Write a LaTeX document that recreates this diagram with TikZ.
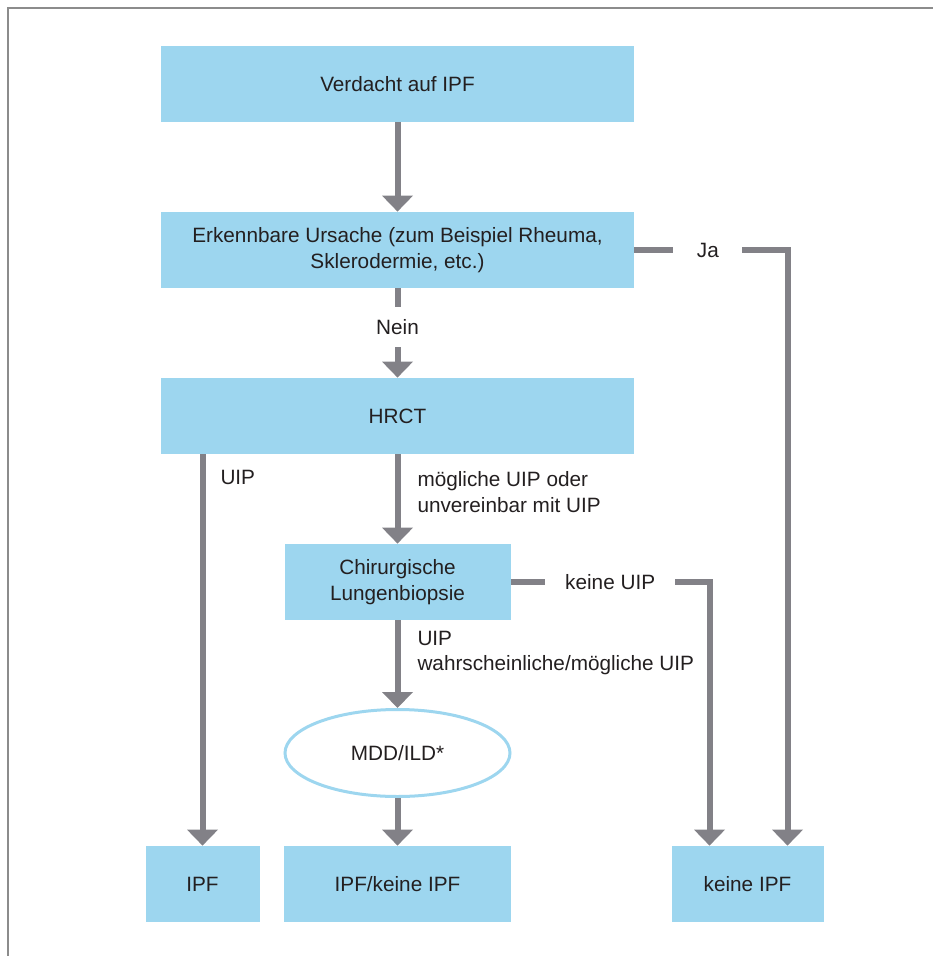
\documentclass[tikz,border=0pt]{standalone}
\usepackage{fontspec}
\setmainfont{Liberation Sans}
\usepackage{tikz}
\usetikzlibrary{arrows,arrows.meta,calc,shapes.geometric}
\definecolor{azzurro}{RGB}{157,214,239}
\definecolor{grigio}{RGB}{130,129,135}
\definecolor{testo}{RGB}{35,31,32}
\definecolor{cornice}{RGB}{140,140,140}
\tikzset{
node distance=3.32cm,
scatola/.style={rectangle,fill=azzurro,minimum height=1.52cm,align=center,text=testo},
ovale/.style={ellipse,draw=azzurro,line width=0.06cm,fill=white,minimum width=4.5cm,minimum height=1.74cm,inner sep=0pt,text=testo},
freccia/.style={-{Triangle[width=0.6cm,length=0.32cm]},grigio,line width=0.12cm},
buco/.style={fill=white,text=testo},
etichetta/.style={anchor=west,align=left,inner sep=0pt,text=testo}}

\begin{document}
\begin{tikzpicture}[font=\fontsize{11.8}{14.5}\selectfont]

\clip (0,0) rectangle (18.66,-19.12);
\draw[cornice,line width=0.04cm] (0.16,-20) -- (0.16,-0.16) -- (20,-0.16);

\node[scatola,minimum width=9.46cm] (sospetto) at (7.95,-1.68) {Verdacht auf IPF};
\node (causa) [scatola,minimum width=9.46cm,below of=sospetto] {Erkennbare Ursache (zum Beispiel Rheuma,\\Sklerodermie, etc.)};
\node (hrct) [scatola,minimum width=9.46cm,below of=causa] {HRCT};
\node (biopsia) [scatola,minimum width=4.52cm,below of=hrct] {Chirurgische\\Lungenbiopsie};
\node (mdd) [ovale,below of=biopsia,node distance=3.42cm] {MDD/ILD*};
\node (forse) [scatola,minimum width=4.54cm,below of=mdd,node distance=2.62cm] {IPF/keine IPF};
\node (ipf) [scatola,minimum width=2.28cm,left of=forse,node distance=3.9cm] {IPF};
\node (noipf) [scatola,minimum width=3.04cm,right of=forse,node distance=7cm] {keine IPF};

\draw[freccia] (sospetto) -- (causa);
\draw[freccia] (causa) -- node[buco,pos=0.43,inner xsep=0.2cm,inner ysep=0.25cm] {Nein} (hrct);
\draw[freccia] (causa.east) -| node[buco,pos=0.24,inner xsep=0.47cm] {Ja} ([xshift=0.8cm]noipf.north);

\draw[freccia] (ipf.north |- hrct.south) -- node[etichetta,pos=0.06,xshift=0.3cm] {UIP} (ipf);
\draw[freccia] (hrct) -- node[etichetta,pos=0.42,xshift=0.34cm] {mögliche UIP oder\\unvereinbar mit UIP} (biopsia);

\draw[freccia] (biopsia.east) -| node[buco,pos=0.25,inner xsep=0.4cm] {keine UIP} ([xshift=-0.76cm]noipf.north);
\draw[freccia] (biopsia) -- node[etichetta,pos=0.37,xshift=0.34cm] {UIP\\wahrscheinliche/mögliche UIP} (mdd);

\draw[freccia] (mdd) -- (forse);

\end{tikzpicture}
\end{document}
